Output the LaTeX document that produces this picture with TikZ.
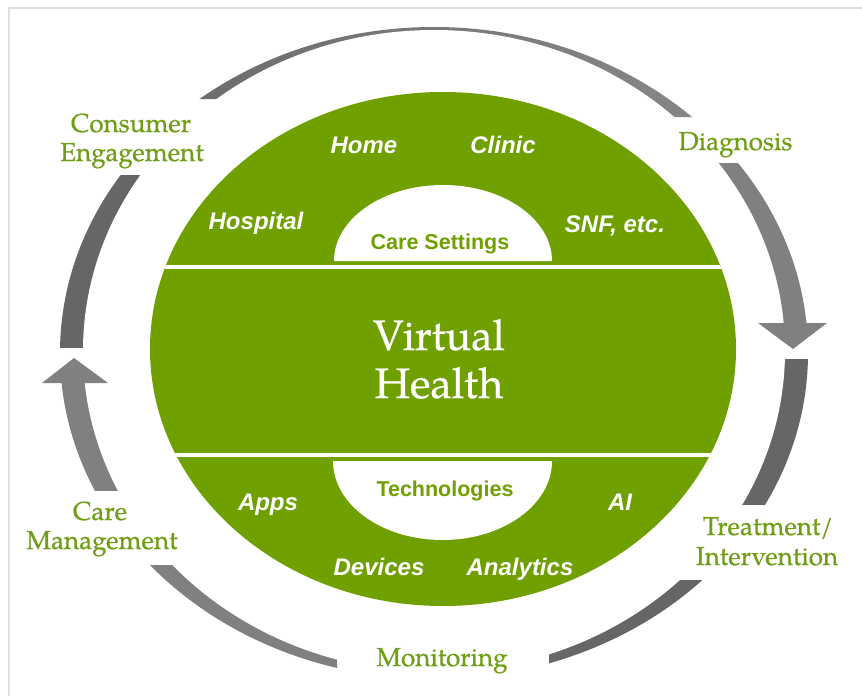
\documentclass[tikz,border=0pt]{standalone}
\usepackage{fontspec}
\setmainfont{Liberation Sans}
\newfontfamily\lsans{Liberation Sans}
\newfontfamily\pal[FakeBold=0.6]{TeX Gyre Pagella}
\definecolor{vhgreen}{RGB}{112,160,0}
\definecolor{labgreen}{RGB}{112,158,22}
\definecolor{darkarc}{RGB}{102,102,102}
\definecolor{lightarc}{RGB}{128,128,128}
\definecolor{lighterarc}{RGB}{140,140,140}
\definecolor{framegray}{RGB}{224,224,224}
\begin{document}
\begin{tikzpicture}[x=1pt,y=-1pt,
  innertxt/.style={text=white, font=\lsans\fontsize{24}{28}\selectfont\bfseries\itshape, anchor=base, inner sep=0pt},
  boxtxt/.style={text=vhgreen, font=\lsans\fontsize{21.5}{25}\selectfont\bfseries, anchor=base, inner sep=0pt},
  looptxt/.style={text=labgreen, font=\pal\fontsize{26}{29}\selectfont, anchor=base, inner sep=0pt},
  vhtxt/.style={text=white, font=\pal\fontsize{42.5}{48}\selectfont, anchor=base, inner sep=0pt},
  outerring/.style={insert path={(434,353) ellipse [x radius=374pt, y radius=326pt]}},
  innerring/.style={insert path={(434,351) ellipse [x radius=351pt, y radius=321pt]}},
  greendisc/.style={insert path={(443,349) ellipse [x radius=293pt, y radius=257pt]}}
]
\useasboundingbox (0,0) rectangle (862,696);
\fill[white] (0,0) rectangle (862,696);
% frame
\draw[framegray, line width=2pt] (8.5,696) -- (8.5,7.5) -- (862,7.5);

% ---- cycle ring segments ----
% top arc (Consumer Engagement -> Diagnosis)
\begin{scope}
  \clip (0,0) -- (862,0) -- (862,117) -- (434,117) -- (434,99) -- (0,99) -- cycle;
  \shade[left color=darkarc, right color=lighterarc, outerring];
\end{scope}
% Diagnosis -> Treatment (arrow shaft)
\begin{scope}
  \clip (434,163) rectangle (862,323);
  \fill[lightarc, outerring];
\end{scope}
% right lower arc
\begin{scope}
  \clip (434,359) rectangle (862,504);
  \fill[darkarc, outerring];
\end{scope}
% bottom right arc
\begin{scope}
  \clip (549,580) rectangle (862,696);
  \fill[darkarc, outerring];
\end{scope}
% bottom left arc
\begin{scope}
  \clip (0,565) rectangle (337,696);
  \fill[lightarc, outerring];
\end{scope}
% Care Management -> up arrow shaft
\begin{scope}
  \clip (0,383) rectangle (434,490);
  \fill[lightarc, outerring];
\end{scope}
% left upper arc
\begin{scope}
  \clip (0,175) rectangle (434,347);
  \fill[darkarc, outerring];
\end{scope}
% hollow out the ring
\fill[white, innerring];

% arrowheads
\fill[lightarc] (758,323) -- (827,323) -- (793,349) -- cycle;
\fill[lightarc] (42,383) -- (108,383) -- (74,358) -- cycle;

% ---- central green disc ----
\fill[vhgreen, greendisc];
\begin{scope}
  \clip[greendisc];
  \draw[white, line width=4pt] (100,267) -- (800,267);
  \draw[white, line width=4pt] (100,455) -- (800,455);
\end{scope}
% Care Settings dome and Technologies bowl
\fill[white] (334,261) arc[start angle=180, end angle=0, x radius=109pt, y radius=76pt] -- cycle;
\fill[white] (333,461) arc[start angle=180, end angle=360, x radius=109.5pt, y radius=79pt] -- cycle;

% ---- texts inside the disc ----
\node[innertxt] (home) at (364,153) {Home};
\node[innertxt] (clinic) at (503,153) {Clinic};
\node[innertxt] (hospital) at (256,229) {Hospital};
\node[innertxt] (snf) at (615,232) {SNF, etc.};
\node[boxtxt] (caresettings) at (440,249) {Care Settings};
\node[vhtxt] (virtual) at (439,350) {Virtual};
\node[vhtxt] (health) at (439,398) {Health};
\node[boxtxt] (technologies) at (445,496) {Technologies};
\node[innertxt] (apps) at (268,510) {Apps};
\node[innertxt] (ai) at (620,510) {AI};
\node[innertxt] (devices) at (379,575) {Devices};
\node[innertxt] (analytics) at (520,575) {Analytics};

% ---- cycle labels ----
\node[looptxt] (consumer) at (131,132) {Consumer};
\node[looptxt] (engagement) at (132,161) {Engagement};
\node[looptxt] (diagnosis) at (735.5,150) {Diagnosis};
\node[looptxt] (treatment) at (768,535) {Treatment/};
\node[looptxt] (intervention) at (767,565) {Intervention};
\node[looptxt] (monitoring) at (442,666) {Monitoring};
\node[looptxt] (care) at (100,520) {Care};
\node[looptxt] (management) at (102,549) {Management};
\end{tikzpicture}
\end{document}
